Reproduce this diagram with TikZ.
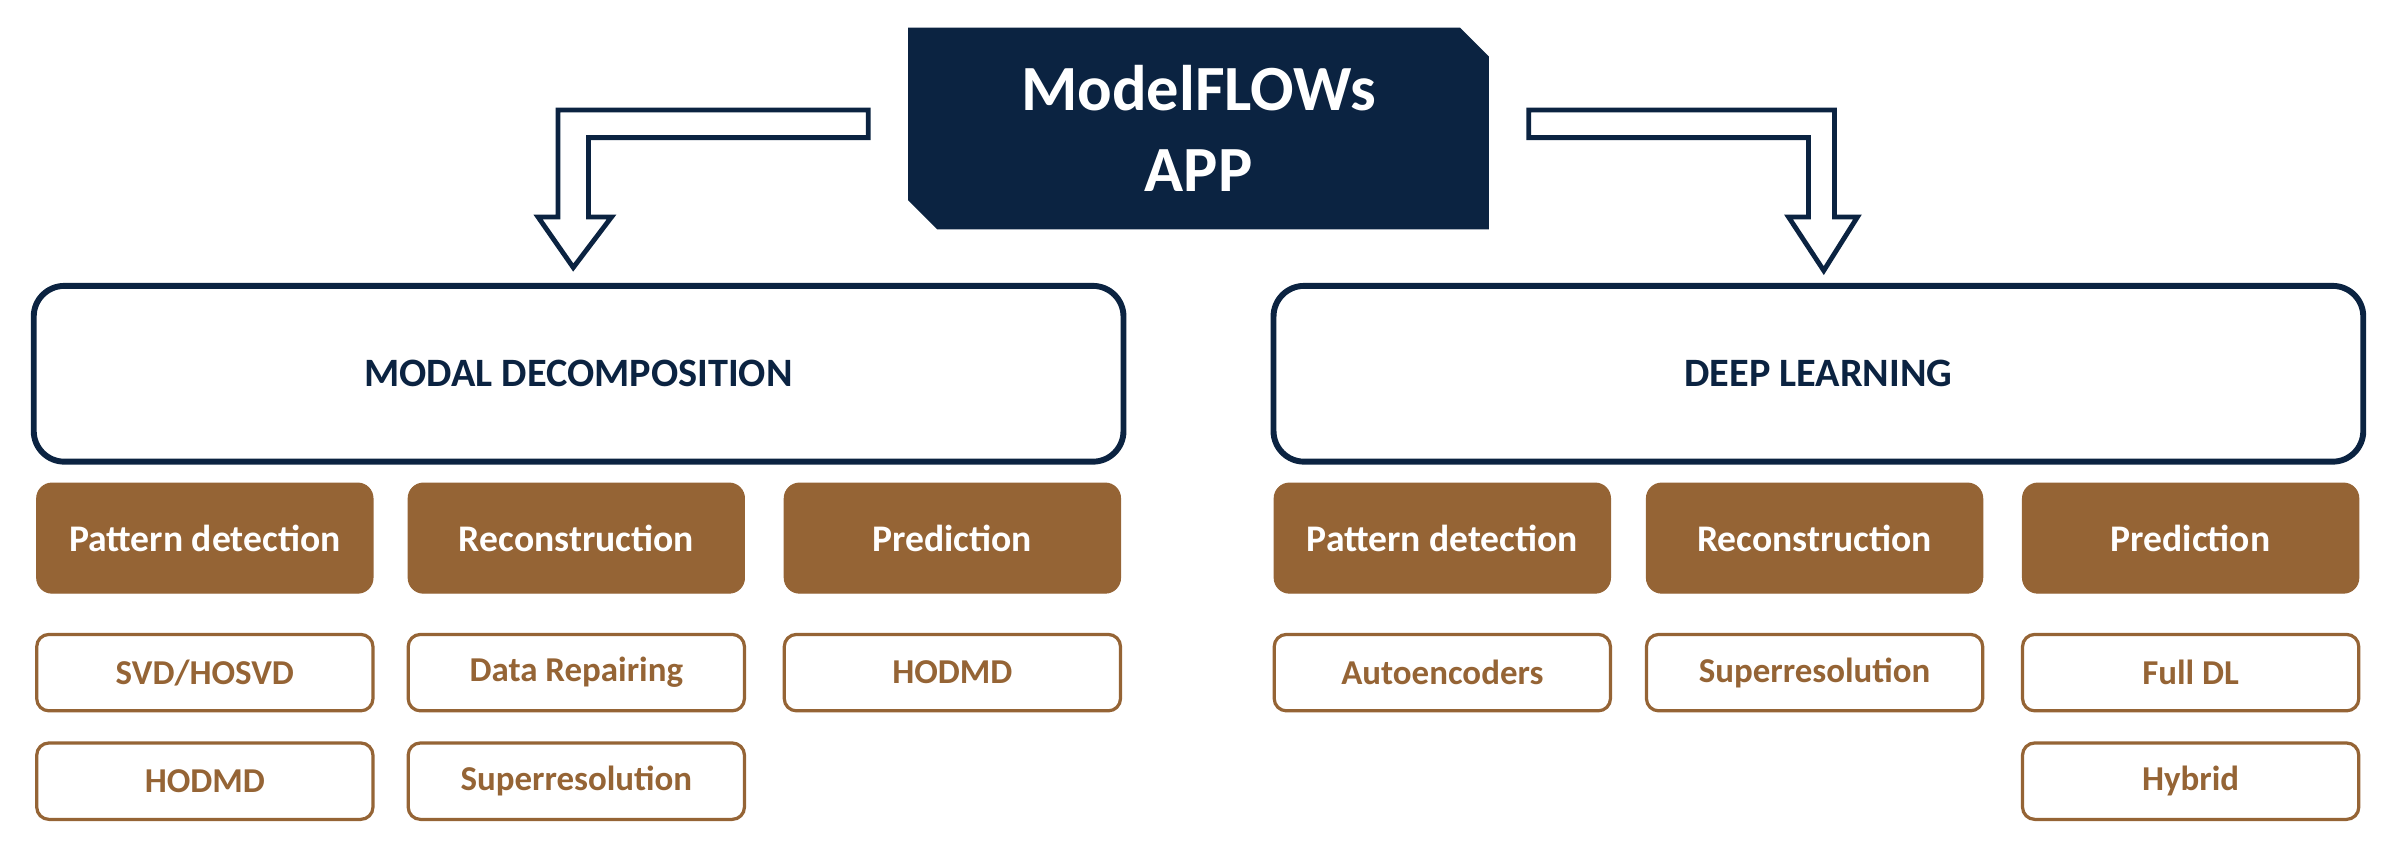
\documentclass[tikz,border=0pt]{standalone}
\usepackage{fontspec}
\setmainfont{Carlito}
\definecolor{navy}{HTML}{0B2341}
\definecolor{bronze}{HTML}{956435}
\tikzset{
  area/.style={draw=navy, line width=2.2pt, rounded corners=0.4cm, fill=white,
    minimum width=14.26cm, minimum height=2.3cm, font=\bfseries\fontsize{15}{18}\selectfont, text=navy},
  task/.style={draw=bronze, fill=bronze, rounded corners=0.2cm, minimum width=4.4cm,
    minimum height=1.44cm, font=\bfseries\fontsize{14}{17}\selectfont, text=white},
  method/.style={draw=bronze, line width=1.2pt, rounded corners=0.16cm, fill=white,
    minimum width=4.4cm, minimum height=1.0cm, font=\bfseries\fontsize{13}{16}\selectfont, text=bronze},
  hollow/.style={draw=navy, line width=1.8pt, fill=white, line join=miter}
}
\begin{document}
\begin{tikzpicture}[x=0.02cm, y=-0.02cm]
\useasboundingbox (0,0) rectangle (1568,565);
% title
\fill[navy] (594,18) -- (955,18) -- (974,37) -- (974,150) -- (613,150) -- (594,131) -- cycle;
\node[font=\bfseries\fontsize{24}{30}\selectfont, text=white, align=center] (app) at (784,84) {ModelFLOWs\\APP};
% arrows
\draw[hollow] (568,72) -- (365,72) -- (365,142) -- (352,142) -- (375,175) -- (400,142) -- (385,142) -- (385,90) -- (568,90) -- cycle;
\draw[hollow] (1000,72) -- (1200,72) -- (1200,142) -- (1215,142) -- (1193,177) -- (1170,142) -- (1183,142) -- (1183,90) -- (1000,90) -- cycle;
% areas
\node[area] (md) at (378.5,244.5) {MODAL DECOMPOSITION};
\node[area] (dl) at (1189.5,244.5) {DEEP LEARNING};
% tasks
\node[task] (mdpat) at (134,352) {Pattern detection};
\node[task] (mdrec) at (377,352) {Reconstruction};
\node[task] (mdpre) at (623,352) {Prediction};
\node[task] (dlpat) at (943.5,352) {Pattern detection};
\node[task] (dlrec) at (1187,352) {Reconstruction};
\node[task] (dlpre) at (1433,352) {Prediction};
% methods
\node[method] (svd) at (134,440) {SVD/HOSVD};
\node[method] (hodmdA) at (134,511) {HODMD};
\node[method] (repair) at (377,440) {Data Repairing};
\node[method] (superA) at (377,511) {Superresolution};
\node[method] (hodmdB) at (623,440) {HODMD};
\node[method] (auto) at (943.5,440) {Autoencoders};
\node[method] (superB) at (1187,440) {Superresolution};
\node[method] (full) at (1433,440) {Full DL};
\node[method] (hybrid) at (1433,511) {Hybrid};
\end{tikzpicture}
\end{document}
